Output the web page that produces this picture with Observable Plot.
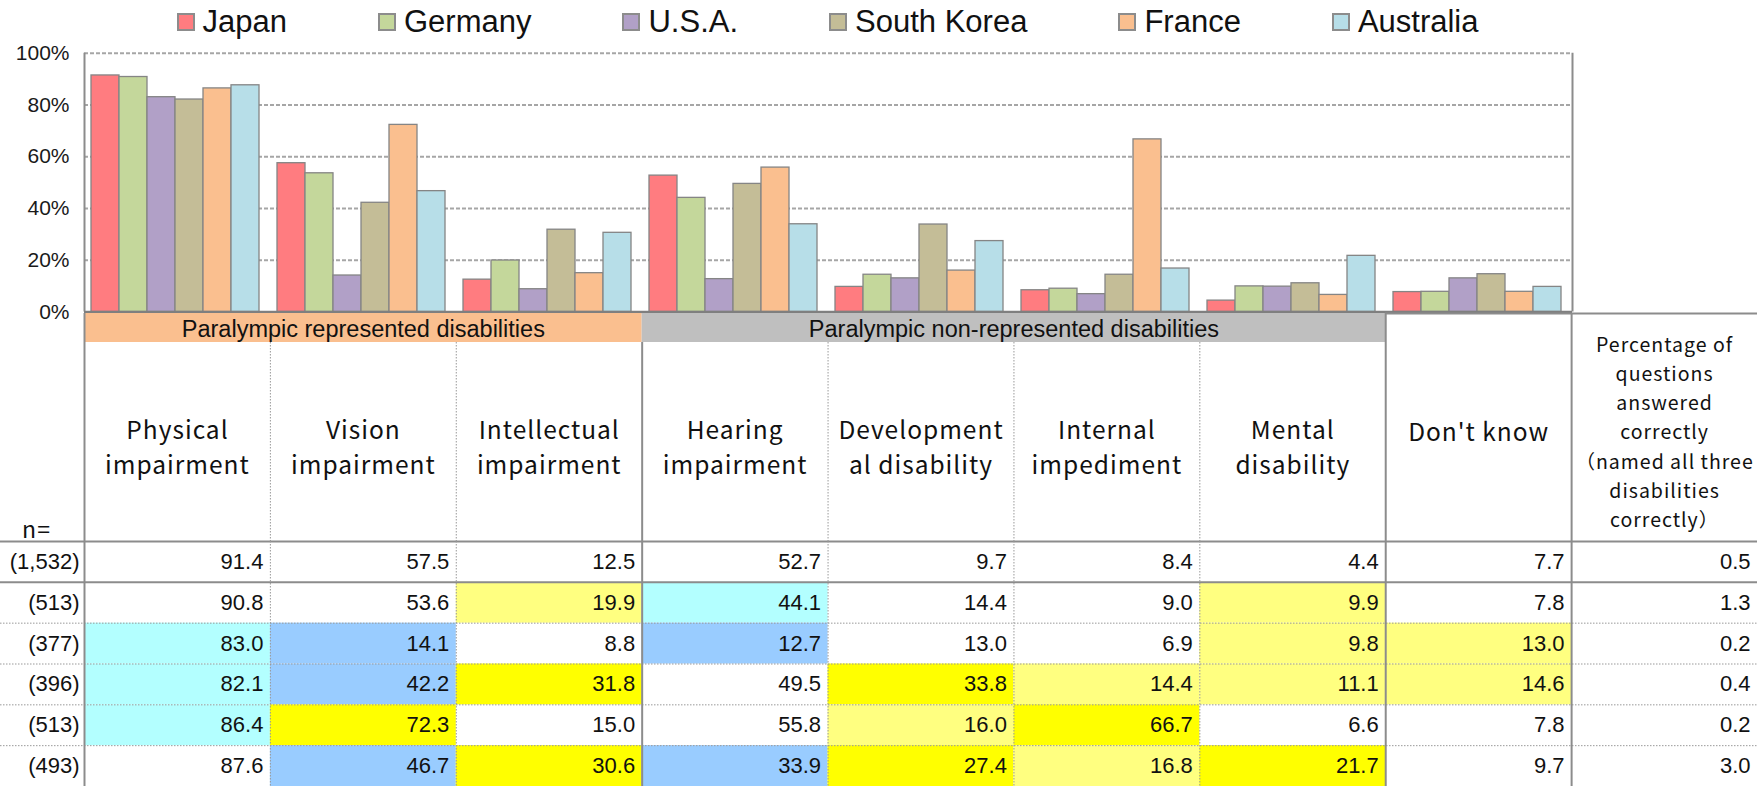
<!DOCTYPE html>
<html lang="en">
<head>
<meta charset="utf-8">
<script src="https://cdn.jsdelivr.net/npm/d3@7"></script>
<script src="https://cdn.jsdelivr.net/npm/@observablehq/plot@0.6"></script>
<style>
  html, body { margin: 0; padding: 0; background: #fff; }
  #root { position: relative; width: 1757px; height: 786px; overflow: hidden; background: #fff; }
  .layer { position: absolute; left: 0; }
  .layer svg { display: block; background: transparent !important; overflow: visible !important; }
  #legend { position: absolute; top: 4px; left: 84px; width: 1488px; display: flex; justify-content: center; }
  #legend [class*="-swatches"] { font-family: "Liberation Sans", Arial, sans-serif !important; font-size: 31px !important; color: #111 !important; min-height: 0 !important; margin: 0 !important; }
  #legend [class$="-swatch"] { margin-right: 92px !important; }
  #legend [class$="-swatch"]:last-child { margin-right: 0 !important; }
  #legend [class$="-swatch"] > svg { margin-right: 9px !important; }
  #legend rect { stroke: #8c8c8c; stroke-width: 2px; }
</style>
</head>
<body>
<div id="root"><div id="legend"></div></div>
<script>
// ---------------- data ----------------
const countries = ["Japan", "Germany", "U.S.A.", "South Korea", "France", "Australia"];
const countryColors = ["#FF7C80", "#C4D79B", "#B1A0C7", "#C4BD97", "#FABF8F", "#B7DEE8"];
const sampleSizes = ["(1,532)", "(513)", "(377)", "(396)", "(513)", "(493)"];

const categories = [
  "Physical impairment", "Vision impairment", "Intellectual impairment", "Hearing impairment",
  "Developmental disability", "Internal impediment", "Mental disability", "Don't know"
];
const headerLabels = [
  "Physical\nimpairment", "Vision\nimpairment", "Intellectual\nimpairment", "Hearing\nimpairment",
  "Development\nal disability", "Internal\nimpediment", "Mental\ndisability", "Don't know",
  "Percentage of\nquestions\nanswered\ncorrectly\n（named all three\ndisabilities\ncorrectly）"
];
const categoryGroup = [0, 0, 0, 1, 1, 1, 1, null];
const groupNames = ["Paralympic represented disabilities", "Paralympic non-represented disabilities"];
const groupColors = ["#FABF8F", "#BFBFBF"];
const yTicks = [0, 20, 40, 60, 80, 100];

const valuesJapan      = [91.4, 57.5, 12.5, 52.7,  9.7,  8.4,  4.4,  7.7, 0.5];
const valuesGermany    = [90.8, 53.6, 19.9, 44.1, 14.4,  9.0,  9.9,  7.8, 1.3];
const valuesUSA        = [83.0, 14.1,  8.8, 12.7, 13.0,  6.9,  9.8, 13.0, 0.2];
const valuesSouthKorea = [82.1, 42.2, 31.8, 49.5, 33.8, 14.4, 11.1, 14.6, 0.4];
const valuesFrance     = [86.4, 72.3, 15.0, 55.8, 16.0, 66.7,  6.6,  7.8, 0.2];
const valuesAustralia  = [87.6, 46.7, 30.6, 33.9, 27.4, 16.8, 21.7,  9.7, 3.0];

// highlight codes: c = cyan, b = blue, Y = yellow, y = light yellow
const highlightJapan      = ["",  "",  "",  "",  "",  "",  "",  "",  ""];
const highlightGermany    = ["",  "",  "y", "c", "",  "",  "y", "",  ""];
const highlightUSA        = ["c", "b", "",  "b", "",  "",  "y", "y", ""];
const highlightSouthKorea = ["c", "b", "Y", "",  "Y", "y", "y", "y", ""];
const highlightFrance     = ["c", "Y", "",  "",  "y", "Y", "",  "",  ""];
const highlightAustralia  = ["",  "b", "Y", "b", "Y", "y", "Y", "",  ""];
const highlightColors = {c: "#B3FFFF", b: "#99CCFF", Y: "#FFFF00", y: "#FFFF80"};

const valuesByCountry = [valuesJapan, valuesGermany, valuesUSA, valuesSouthKorea, valuesFrance, valuesAustralia];
const highlightsByCountry = [highlightJapan, highlightGermany, highlightUSA, highlightSouthKorea, highlightFrance, highlightAustralia];

// ---------------- layout ----------------
const W = 1757;
const plotLeft = 84, plotRight = 1572;
const chartSvgH = 313, chartTop = 52.7, chartBottom = 311.5;
const bandTop = 313, bandBottom = 342, headerBottom = 541, tableBottom = 786;
const tableCols = headerLabels.length;
const colStep = (W - plotLeft) / tableCols;
const nRatio = plotLeft / colStep;
const tableX = {domain: [-nRatio, tableCols], axis: null};

const sans = "'Liberation Sans', Arial, sans-serif";
const jp = "'Noto Sans CJK JP', 'Liberation Sans', sans-serif";
const lineGrey = "#8c8c8c";

const root = document.getElementById("root");
function place(el, top) {
  const d = document.createElement("div");
  d.className = "layer";
  d.style.top = top + "px";
  d.appendChild(el);
  root.appendChild(d);
}

// legend
document.getElementById("legend").appendChild(
  Plot.legend({color: {domain: countries, range: countryColors}, legend: "swatches", swatchSize: 16})
);

// chart background: grid, axis, borders
place(Plot.plot({
  width: W, height: chartSvgH,
  marginTop: chartTop, marginBottom: chartSvgH - chartBottom,
  marginLeft: plotLeft, marginRight: W - plotRight,
  style: {fontFamily: sans, fontSize: "21px", color: "#1a1a1a", background: "transparent"},
  x: {domain: [0, categories.length], axis: null},
  y: {domain: [0, 100], ticks: yTicks, tickFormat: d => d + "%", tickSize: 0, tickPadding: 15, label: null},
  marks: [
    Plot.ruleY(yTicks.filter(v => v > 0), {stroke: "#a6a6a6", strokeWidth: 2, strokeDasharray: "4,2"}),
    Plot.ruleX([0, categories.length], {stroke: lineGrey, strokeWidth: 2})
  ]
}), 0);

// bars (faceted by category)
const barData = countries.flatMap((c, ci) =>
  categories.map((cat, k) => ({country: c, category: cat, value: valuesByCountry[ci][k]})));

place(Plot.plot({
  width: W, height: chartSvgH,
  marginTop: chartTop, marginBottom: chartSvgH - chartBottom,
  marginLeft: plotLeft, marginRight: W - plotRight,
  style: {background: "transparent"},
  facet: {data: barData, x: "category", label: null},
  fx: {domain: categories, padding: 0, axis: null},
  x: {domain: countries, axis: null, paddingInner: 0, paddingOuter: 0.23, align: 0.4},
  y: {domain: [0, 100], axis: null},
  color: {domain: countries, range: countryColors},
  marks: [
    Plot.barY(barData, {x: "country", y: "value", fill: "country", stroke: "#858585", strokeWidth: 1.3}),
    Plot.ruleY([0], {stroke: "#7f7f7f", strokeWidth: 2.5})
  ]
}), 0);

// group band row
const bandData = groupNames.map((name, gi) => ({
  name, color: groupColors[gi],
  x1: categoryGroup.indexOf(gi), x2: categoryGroup.lastIndexOf(gi) + 1
}));
const boundaries = d3.range(0, tableCols);
const isSolid = i => i === 0 || categoryGroup[i] == null || categoryGroup[i - 1] == null || categoryGroup[i] !== categoryGroup[i - 1];
const solidB = boundaries.filter(isSolid);
const dottedB = boundaries.filter(i => !isSolid(i));
const bandLines = boundaries.filter(i => i === 0 || categoryGroup[i] == null || categoryGroup[i - 1] == null);

place(Plot.plot({
  width: W, height: bandBottom - bandTop, margin: 0,
  style: {fontFamily: sans, background: "transparent"},
  x: tableX,
  y: {domain: [0, 1], axis: null},
  marks: [
    Plot.rect(bandData, {x1: "x1", x2: "x2", y1: 0, y2: 1, fill: "color"}),
    Plot.text(bandData, {x: d => (d.x1 + d.x2) / 2, y: 0.5, text: "name", fontSize: 23.5, dy: 1, fill: "#111"}),
    Plot.ruleY([1], {x1: categories.length - 1, x2: tableCols, stroke: lineGrey, strokeWidth: 2}),
    Plot.ruleX(bandLines, {stroke: lineGrey, strokeWidth: 2})
  ]
}), bandTop);

// header row
const headerCats = headerLabels.map((label, i) => ({label, i})).filter(d => d.i < categories.length - 1);
const headerOther = headerLabels.map((label, i) => ({label, i})).filter(d => d.i >= categories.length - 1);
place(Plot.plot({
  width: W, height: headerBottom - bandBottom, margin: 0,
  style: {fontFamily: jp, background: "transparent", letterSpacing: "1px"},
  x: tableX,
  marks: [
    Plot.ruleX(dottedB, {stroke: "#999", strokeWidth: 1, strokeDasharray: "1.5,1.5"}),
    Plot.ruleX(solidB, {stroke: lineGrey, strokeWidth: 2}),
    Plot.text(headerCats, {x: d => d.i + 0.5, frameAnchor: "middle", text: "label", fontSize: 24.5, lineHeight: 1.45, dy: 3, fill: "#111"}),
    Plot.text(headerOther.filter(d => d.i === categories.length - 1), {x: d => d.i + 0.5, frameAnchor: "middle", text: "label", fontSize: 24.5, dy: -9, fill: "#111"}),
    Plot.text(headerOther.filter(d => d.i === categories.length), {x: d => d.i + 0.5, frameAnchor: "middle", text: "label", fontSize: 19.5, lineHeight: 1.5, dy: -12, fill: "#111", style: "letter-spacing:0.5px"}),
    Plot.text(["n="], {x: -nRatio / 2, frameAnchor: "bottom", lineAnchor: "bottom", dy: -4, dx: -6, fontSize: 23, fill: "#111"})
  ]
}), bandBottom);

// data table
const cellData = countries.flatMap((c, r) => valuesByCountry[r].map((v, k) => ({
  r, k, v, hl: highlightsByCountry[r][k]
})));
place(Plot.plot({
  width: W, height: tableBottom - headerBottom, margin: 0,
  style: {fontFamily: sans, background: "transparent"},
  x: tableX,
  y: {domain: [countries.length, 0], axis: null},
  marks: [
    Plot.rect(cellData.filter(d => d.hl), {x1: "k", x2: d => d.k + 1, y1: "r", y2: d => d.r + 1, fill: d => highlightColors[d.hl]}),
    Plot.ruleY(d3.range(2, countries.length), {stroke: "#999", strokeWidth: 1, strokeDasharray: "1.5,1.5"}),
    Plot.ruleY([0, 1], {stroke: lineGrey, strokeWidth: 2}),
    Plot.ruleX(dottedB, {stroke: "#999", strokeWidth: 1, strokeDasharray: "1.5,1.5"}),
    Plot.ruleX(solidB, {stroke: lineGrey, strokeWidth: 2}),
    Plot.text(cellData, {x: d => d.k + 1, y: d => d.r + 0.5, text: d => d.v.toFixed(1), textAnchor: "end", dx: -7, fontSize: 22, fill: "#111"}),
    Plot.text(sampleSizes, {x: 0, y: (d, i) => i + 0.5, text: d => d, textAnchor: "end", dx: -5, fontSize: 22, fill: "#111"})
  ]
}), headerBottom);
</script>
</body>
</html>
